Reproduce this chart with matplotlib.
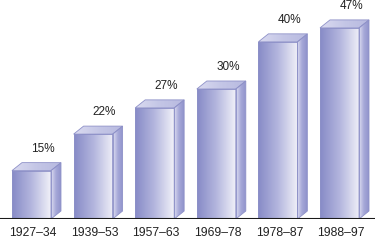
import numpy as np
import matplotlib
matplotlib.use("Agg")
import matplotlib.pyplot as plt
from matplotlib.patches import Polygon
from matplotlib.colors import LinearSegmentedColormap
from matplotlib.transforms import offset_copy

periods = ["1927–34", "1939–53", "1957–63", "1969–78", "1978–87", "1988–97"]
labels = ["15%", "22%", "27%", "30%", "40%", "47%"]
# bar heights as drawn in the picture (not exactly to scale with the labels)
heights = [11.8, 20.7, 27.1, 31.7, 43.2, 46.6]

plt.rcParams["font.family"] = ["Liberation Sans", "DejaVu Sans"]

W, H, DPI = 375, 249, 100
fig = plt.figure(figsize=(W / DPI, H / DPI), dpi=DPI)
ax = fig.add_axes([0, 30 / H, 1, 219 / H])
ax.set_xlim(-0.511, 5.576)
ax.set_ylim(0, 53.4)
ax.axis("off")

# px -> data units
px_x = (5.576 + 0.511) / W
px_y = 53.4 / 219
bw = 39 * px_x          # front width
dx = 10 * px_x          # depth offset
dy = 8 * px_y

front_cm = LinearSegmentedColormap.from_list("f", ["#878bc7", "#b4b6de", "#f0f0f8"])
side_cm = LinearSegmentedColormap.from_list("s", ["#dcdcf0", "#a6a8d8", "#9194cc"])
top_cm = LinearSegmentedColormap.from_list("t", ["#dadaf0", "#c4c6e6", "#b8bae0"])
grad = np.linspace(0, 1, 64).reshape(1, -1)
edge = "#8e91c8"

for i, h in enumerate(heights):
    x0 = i - bw / 2
    x1 = i + bw / 2
    faces = [
        ([(x0, 0), (x1, 0), (x1, h), (x0, h)], front_cm, (x0, x1, 0, h)),
        ([(x1, 0), (x1 + dx, dy), (x1 + dx, h + dy), (x1, h)], side_cm, (x1, x1 + dx, 0, h + dy)),
        ([(x0, h), (x1, h), (x1 + dx, h + dy), (x0 + dx, h + dy)], top_cm, (x0, x1 + dx, h, h + dy)),
    ]
    for pts, cm, ext in faces:
        poly = Polygon(pts, closed=True, facecolor="none", edgecolor=edge, lw=0.6, zorder=3)
        ax.add_patch(poly)
        im = ax.imshow(grad, cmap=cm, extent=ext, aspect="auto", zorder=2, interpolation="bilinear")
        im.set_clip_path(poly)

    lab_tr = offset_copy(ax.transData, fig=fig, x=11.5, y=14, units="dots")
    ax.text(i, h + dy, labels[i], transform=lab_tr, ha="center", va="center",
            fontsize=8.5, color="#222222")
    tick_tr = offset_copy(ax.transData, fig=fig, x=1.5, y=-14, units="dots")
    ax.text(i, 0, periods[i], transform=tick_tr, ha="center", va="center",
            fontsize=8.7, color="#222222", clip_on=False)

ax.axhline(0, color="#1a1a1a", lw=1.5, zorder=4)

fig.savefig("out.png", dpi=DPI)
